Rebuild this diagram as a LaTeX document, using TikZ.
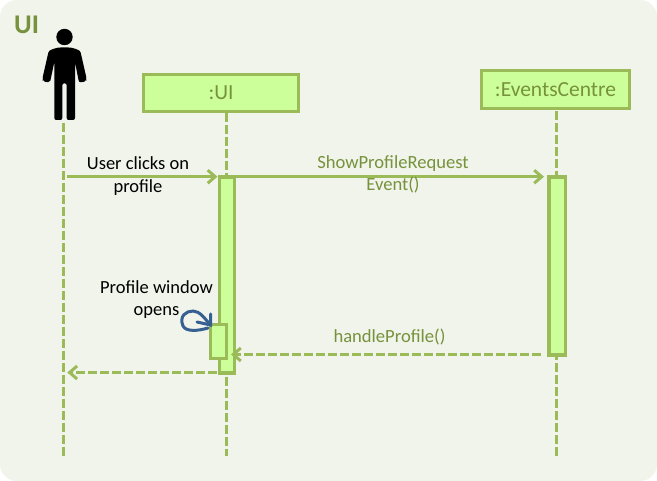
\documentclass[tikz,border=0pt]{standalone}
\usepackage{fontspec}
\setmainfont{Carlito}
\usetikzlibrary{arrows.meta}
\definecolor{linegreen}{HTML}{9BBB59}
\definecolor{boxfill}{HTML}{CCFF99}
\definecolor{textgreen}{HTML}{76923C}
\definecolor{panel}{HTML}{F1F4EA}
\definecolor{noteblue}{HTML}{376092}
\tikzset{
  x=1pt,y=-1pt,
  objbox/.style={draw=linegreen,fill=boxfill,line width=3.4pt,text=textgreen,font=\fontsize{21.5}{24}\selectfont,inner sep=0pt,anchor=north west},
  activation/.style={draw=linegreen,fill=boxfill,line width=3.4pt,inner sep=0pt,anchor=north west},
  lifeline/.style={draw=linegreen,line width=3.2pt,dash pattern=on 9pt off 3pt},
  call/.style={draw=linegreen,line width=3.2pt,-{Straight Barb[length=7.5pt,width=13pt,line width=3pt]}},
  reply/.style={call,dash pattern=on 9pt off 3pt},
  msg/.style={text=textgreen,font=\fontsize{18.6}{22.5}\selectfont,align=center,inner sep=0pt},
  note/.style={text=black,font=\fontsize{18.5}{22.5}\selectfont,align=center,inner sep=0pt}
}
\begin{document}
\begin{tikzpicture}
\useasboundingbox (0,0) rectangle (657,481);
\fill[white] (0,0) rectangle (657,481);
\fill[panel,rounded corners=17pt] (0,0) rectangle (657,481);
\node[anchor=west,text=textgreen,font=\fontsize{27}{30}\selectfont\bfseries,inner sep=0pt] (title) at (14,24.5) {UI};
% actor
\coordinate (actor) at (63.5,123);
\coordinate (actorend) at (63.5,456);
\fill[black] (64.5,37) circle (8.2);
\fill[black,rounded corners=2pt] (54.3,120) -- (54.3,62) -- (50,82.5) -- (43,81.5) -- (42.3,79) -- (48,54) .. controls (49,50) and (56,47.3) .. (64.5,47.3) .. controls (73,47.3) and (80,50) .. (81,54) -- (86.7,79) -- (86,81.5) -- (79,82.5) -- (75,62) -- (75,120) -- (66.7,120) -- (66.7,83.3) -- (62.3,83.3) -- (62.3,120) -- cycle;
% boxes
\node[objbox,minimum width=154.6pt,minimum height=36.6pt] (ui) at (142,73) {:UI};
\node[objbox,minimum width=147.6pt,minimum height=38.1pt] (ec) at (480,69) {:EventsCentre};
% lifelines
\coordinate (uiend) at (226.5,456);
\coordinate (ecend) at (556.5,456);
\path[lifeline] (actor) -- (actorend);
\path[lifeline] (226.5,113) -- (uiend);
\path[lifeline] (556.5,111) -- (ecend);
% activations
\node[activation,minimum width=15.3pt,minimum height=196.1pt] (uibar) at (217.5,175.3) {};
\node[activation,minimum width=16.3pt,minimum height=178pt] (ecbar) at (547.3,175.3) {};
\node[activation,minimum width=16.3pt,minimum height=33.9pt] (inner) at (208.5,322.7) {};
% messages
\coordinate (a1) at (67.3,176.7);
\coordinate (a1end) at (217.5,176.7);
\coordinate (a2start) at (235,176.7);
\coordinate (a2end) at (544,176.7);
\draw[call] (a1) -- (a1end);
\draw[call] (a2start) -- (a2end);
\coordinate (a3start) at (541,354.5);
\coordinate (a3end) at (231,354.5);
\draw[reply] (a3start) -- (a3end);
\coordinate (ret) at (67.3,372.5);
\coordinate (retstart) at (217,372.5);
\draw[reply] (retstart) -- (ret);
% labels
\node[note] (l1) at (138,176) {User clicks on\\profile};
\node[msg] (l2) at (393,174.5) {ShowProfileRequest\\Event()};
\node[msg] (l3) at (389.5,337) {handleProfile()};
\node[note] (l4) at (156.5,299.5) {Profile window\\opens};
% note arrow
\draw[noteblue,line width=3pt,line cap=round] (208,328) .. controls (198,331) and (186,332) .. (183,326) .. controls (179,316) and (186,311) .. (193,311) .. controls (200,311) and (205,319) .. (210.5,325);
\draw[noteblue,line width=3pt,line cap=round] (210.5,314) -- (210.5,325) -- (197,322);
\end{tikzpicture}
\end{document}
